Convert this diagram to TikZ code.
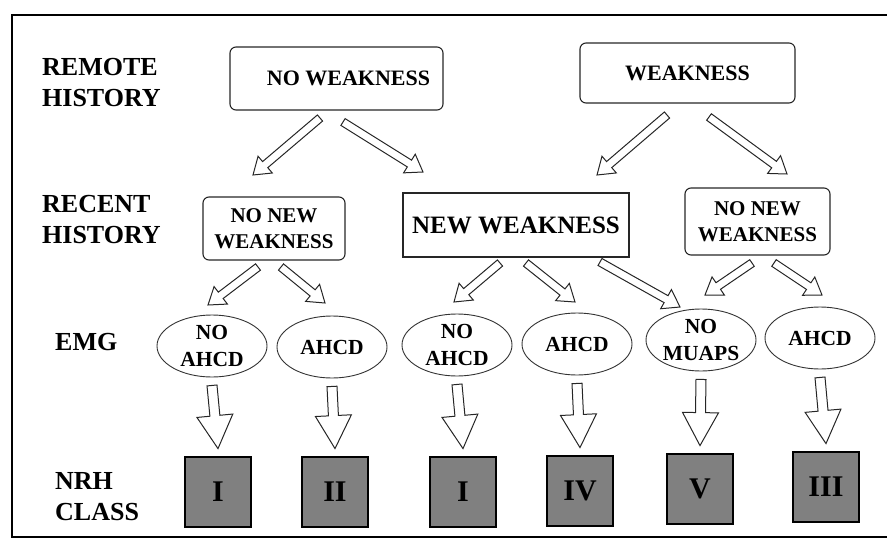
\documentclass[tikz,border=0pt]{standalone}
\usepackage{fontspec}
\setmainfont{Liberation Serif}
\usetikzlibrary{calc,shapes.geometric}
\tikzset{
 rowlabel/.style={anchor=north west, inner sep=0pt, align=left, font=\fontsize{26}{31}\selectfont\bfseries},
 histbox/.style={draw=black!85, line width=1.1pt, rounded corners=6pt, font=\fontsize{22}{26}\selectfont\bfseries, align=center, inner sep=0pt},
 emgell/.style={ellipse, draw=black!80, line width=0.9pt, minimum width=110pt, minimum height=62pt, inner sep=0pt, align=center, font=\fontsize{21.5}{27}\selectfont\bfseries},
 classbox/.style={draw=black, line width=2.8pt, fill=black!50, minimum width=66pt, minimum height=70pt, inner sep=0pt, font=\fontsize{30}{30}\selectfont\bfseries},
 arrowline/.style={draw=black!85, line width=1pt, fill=white, line join=miter},
}
\newcommand\blockarr[5]{%
 \coordinate (tmph) at ($(#2)!#5!(#1)$);
 \draw[arrowline] ($(#1)!#3!90:(#2)$) -- ($(tmph)!#3!90:(#2)$) -- ($(tmph)!#4!90:(#2)$) -- (#2) -- ($(tmph)!#4!-90:(#2)$) -- ($(tmph)!#3!-90:(#2)$) -- ($(#1)!#3!-90:(#2)$) -- cycle;
}
\begin{document}
\begin{tikzpicture}[x=1pt,y=-1pt]
\useasboundingbox (0,0) rectangle (887,549);
\draw[line width=2.5pt] (12,15) rectangle (892,537);

% row labels
\node[rowlabel] (lremote) at (42,58) {REMOTE\\HISTORY};
\node[rowlabel] (lrecent) at (42,195) {RECENT\\HISTORY};
\node[rowlabel] (lemg) at (55,333) {EMG};
\node[rowlabel] (lnrh) at (55,472) {NRH\\CLASS};

% remote history
\node[histbox, minimum width=213pt, minimum height=63pt] (nw) at (336.5,78.5) {\hspace*{24pt}NO WEAKNESS};
\node[histbox, minimum width=215pt, minimum height=60pt] (w) at (687.5,73) {WEAKNESS};

% recent history
\node[histbox, minimum width=142pt, minimum height=63pt, font=\fontsize{21}{26}\selectfont\bfseries] (nnw1) at (274,228.5) {NO NEW\\WEAKNESS};
\node[histbox, rounded corners=0pt, minimum width=226pt, minimum height=64pt, font=\fontsize{25}{26}\selectfont\bfseries] (nwk) at (516,225) {NEW WEAKNESS};
\node[histbox, minimum width=145pt, minimum height=67pt, font=\fontsize{21}{26}\selectfont\bfseries] (nnw2) at (757.5,221.5) {NO NEW\\WEAKNESS};

% EMG
\node[emgell] (e1) at (212,346) {NO\\AHCD};
\node[emgell] (e2) at (332,347) {AHCD};
\node[emgell] (e3) at (457,345) {NO\\AHCD};
\node[emgell] (e4) at (577,344) {AHCD};
\node[emgell] (e5) at (701,340) {NO\\MUAPS};
\node[emgell] (e6) at (820,338) {AHCD};

% NRH class
\node[classbox] (s1) at (218,492) {I};
\node[classbox] (s2) at (335,492) {II};
\node[classbox] (s3) at (463,492) {I};
\node[classbox] (s4) at (580,491) {IV};
\node[classbox] (s5) at (700,489) {V};
\node[classbox] (s6) at (826,487) {III};

% arrow end points
\coordinate (a1s) at (320,118); \coordinate (a1e) at (253,175);
\coordinate (a2s) at (343,122); \coordinate (a2e) at (423,172);
\coordinate (a3s) at (667,115); \coordinate (a3e) at (597,175);
\coordinate (a4s) at (709,117); \coordinate (a4e) at (787,174);
\coordinate (b1s) at (258,267); \coordinate (b1e) at (208,305);
\coordinate (b2s) at (281,267); \coordinate (b2e) at (325,303);
\coordinate (b3s) at (500,263); \coordinate (b3e) at (454,302);
\coordinate (b4s) at (526,263); \coordinate (b4e) at (575,302);
\coordinate (b5s) at (600,262); \coordinate (b5e) at (680,307);
\coordinate (b6s) at (752,263); \coordinate (b6e) at (705,295);
\coordinate (b7s) at (774,263); \coordinate (b7e) at (822,295);

\foreach \a in {a1,a2,a3,a4,b1,b2,b3,b4,b5,b6,b7}{
 \blockarr{\a s}{\a e}{4pt}{11pt}{16pt}
}

% down arrows
\foreach \i in {1,...,6}{
 \coordinate (d\i s) at ($(e\i.south)+(0,8)$);
 \coordinate (d\i e) at ($(s\i.north)+(0,-7)$);
 \blockarr{d\i s}{d\i e}{5pt}{18pt}{33pt}
}
\end{tikzpicture}
\end{document}
